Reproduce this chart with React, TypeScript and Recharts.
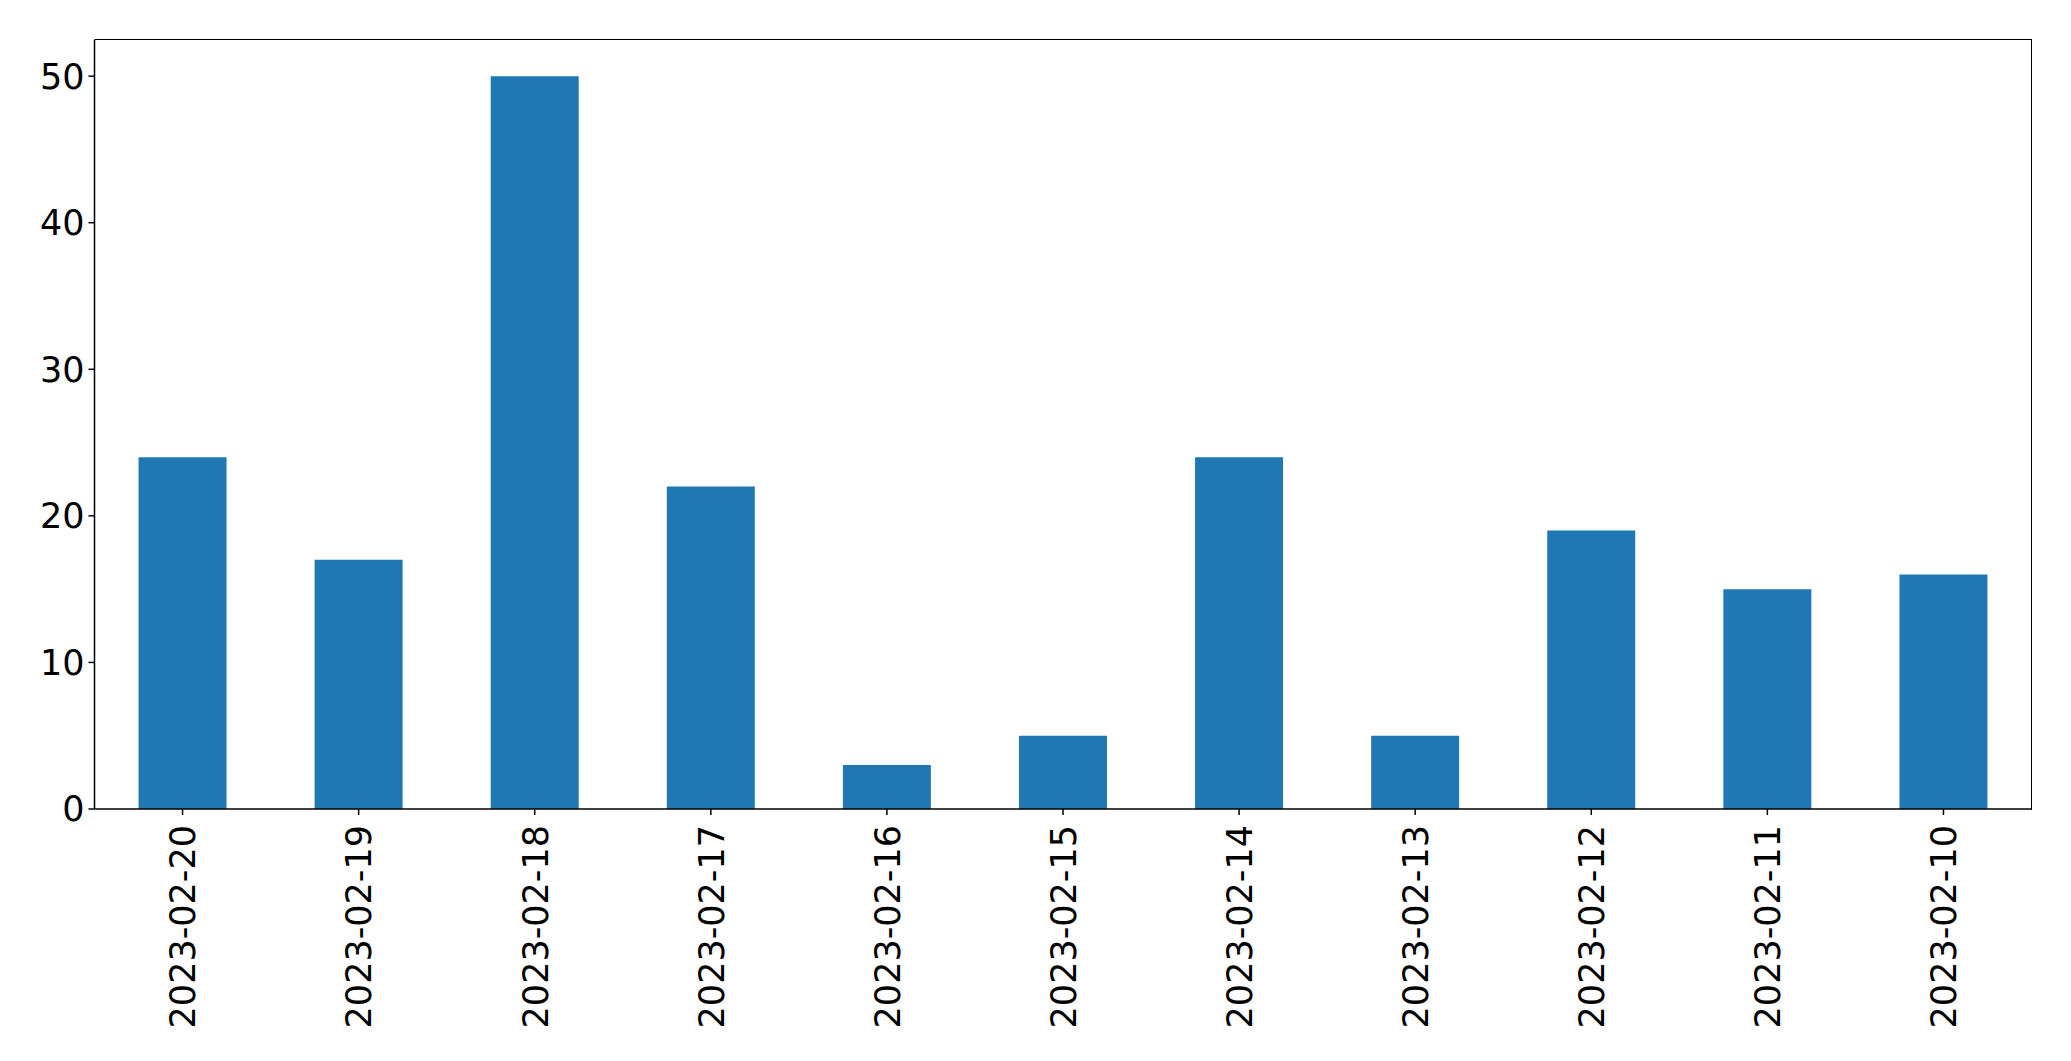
import { BarChart, Bar, XAxis, YAxis } from "recharts";

const dates = [
  "2023-02-20",
  "2023-02-19",
  "2023-02-18",
  "2023-02-17",
  "2023-02-16",
  "2023-02-15",
  "2023-02-14",
  "2023-02-13",
  "2023-02-12",
  "2023-02-11",
  "2023-02-10",
];
const counts = [24, 17, 50, 22, 3, 5, 24, 5, 19, 15, 16];
const yTicks = [0, 10, 20, 30, 40, 50];

const data = dates.map((date, i) => ({ date, count: counts[i] }));

const FONT = "DejaVu Sans";
const FS = 35;

function DateTick(props: any) {
  const { x, y, payload } = props;
  return (
    <text
      transform={`translate(${x + 12.8}, ${y + 8}) rotate(-90)`}
      textAnchor="end"
      fontFamily={FONT}
      fontSize={FS}
      fill="#000"
    >
      {payload.value}
    </text>
  );
}

export default function App() {
  return (
    <div style={{ position: "absolute", left: 0, top: 0, background: "#fff" }}>
      <BarChart
        width={2071}
        height={1061}
        data={data}
        barCategoryGap="25%"
        margin={{ top: 39.5, right: 39.5, bottom: 0, left: 0 }}
      >
        <XAxis
          dataKey="date"
          height={252}
          interval={0}
          tickSize={6}
          tick={<DateTick />}
          axisLine={{ stroke: "#000", strokeWidth: 1.5 }}
          tickLine={{ stroke: "#000", strokeWidth: 1.5 }}
        />
        <YAxis
          width={94.5}
          domain={[0, 52.5]}
          ticks={yTicks}
          interval={0}
          tickSize={6}
          tickMargin={4}
          tick={{ fontFamily: FONT, fontSize: FS, fill: "#000" }}
          axisLine={{ stroke: "#000", strokeWidth: 1.5 }}
          tickLine={{ stroke: "#000", strokeWidth: 1.5 }}
        />
        <Bar dataKey="count" fill="#1f77b4" isAnimationActive={false} />
      </BarChart>
      {/* top and right spines of the axes frame */}
      <div
        style={{
          position: "absolute",
          left: 94.5,
          top: 38.75,
          width: 1937.5 - 0.75,
          height: 770.25,
          borderTop: "1.5px solid #000",
          borderRight: "1.5px solid #000",
          pointerEvents: "none",
        }}
      />
    </div>
  );
}
